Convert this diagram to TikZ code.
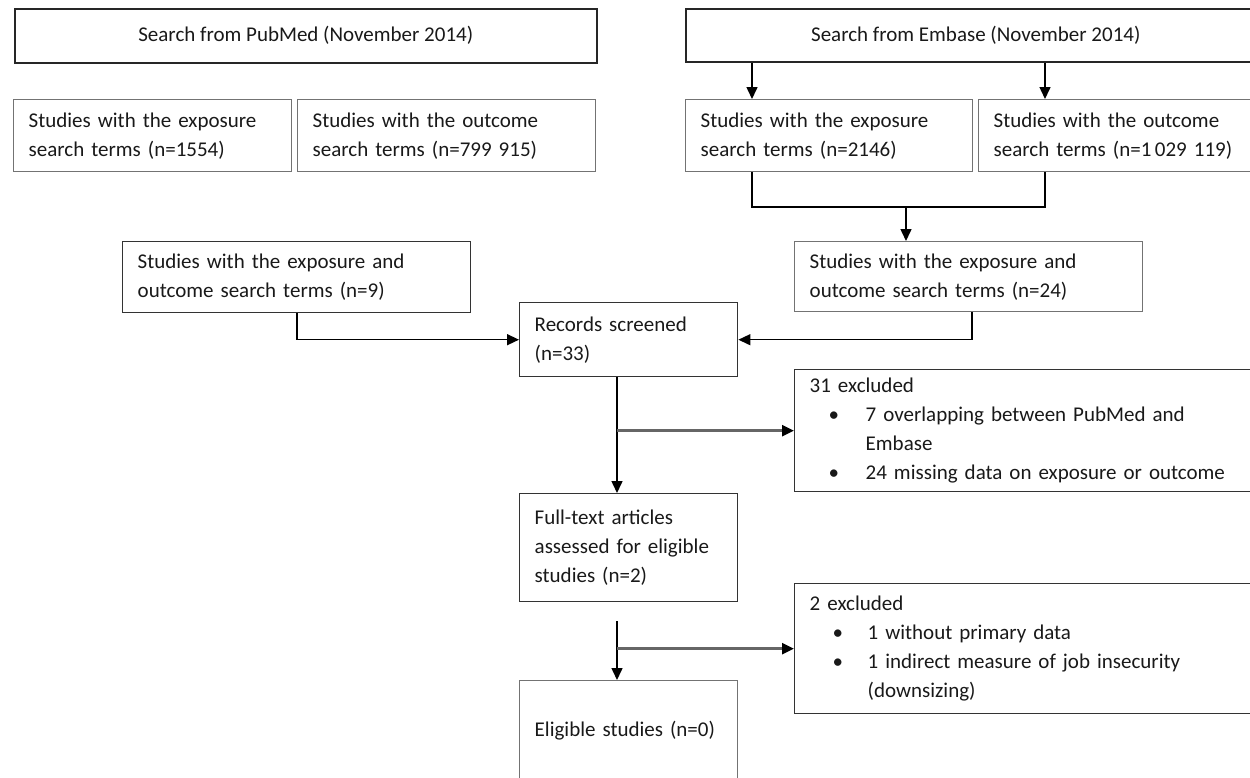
\documentclass[tikz,border=0pt]{standalone}
\usepackage{fontspec}
\setmainfont{Carlito}
\usetikzlibrary{arrows.meta}
\begin{document}
\begin{tikzpicture}[x=1pt,y=-1pt,
  every node/.style={font=\fontsize{21}{29}\selectfont, text=black!90},
  titlebox/.style={draw=black!85, line width=1.5pt, anchor=north west, align=center, inner sep=0pt},
  box/.style={draw=black!55, line width=1.4pt, anchor=north west, align=left, inner xsep=15pt, inner ysep=0pt},
  dbox/.style={draw=black!80, line width=1.4pt, anchor=north west, align=left, inner xsep=15pt, inner ysep=0pt},
  conn/.style={line width=1.5pt, draw=black},
  arr/.style={conn, -{Triangle[length=12pt,width=11pt]}},
  barr/.style={line width=2.6pt, draw=black!60, -{Triangle[length=12pt,width=11pt,color=black]}}
]
\useasboundingbox (0,0) rectangle (1250,777);
\clip (0,0) rectangle (1250,777);

% title boxes
\node[titlebox, minimum width=582pt, minimum height=54pt] (pm) at (14,8) {Search from PubMed (November 2014)};
\node[titlebox, minimum width=580pt, minimum height=53pt] (em) at (685,8) {Search from Embase (November 2014)};

% search term boxes
\node[box, text width=248pt, minimum height=72pt] (pe) at (13,99) {Studies with the exposure\\search terms (n=1554)};
\node[box, text width=268pt, minimum height=72pt] (po) at (297,99) {Studies with the outcome\\search terms (n=799 915)};
\node[box, text width=257pt, minimum height=72pt] (ee) at (685,99) {Studies with the exposure\\search terms (n=2146)};
\node[box, text width=257pt, minimum height=72pt] (eo) at (978,99) {Studies with the outcome\\search terms (n=1\,029 119)};

% combined boxes
\node[dbox, text width=318pt, minimum height=71pt] (pc) at (122,241) {Studies with the exposure and\\outcome search terms (n=9)};
\node[box, text width=318pt, minimum height=70pt] (ec) at (794,241) {Studies with the exposure and\\outcome search terms (n=24)};

% main column
\node[dbox, text width=188pt, minimum height=74pt] (rs) at (519,302) {Records screened\\(n=33)};
\node[dbox, text width=188pt, minimum height=108pt] (ft) at (519,493) {Full-text articles\\assessed for eligible\\studies (n=2)};
\node[box, text width=188pt, minimum height=100pt] (el) at (519,680) {Eligible studies (n=0)};

% exclusion boxes
\node[dbox, text width=476pt, minimum height=122pt] (x1) at (794,369) {31 excluded\\
\hspace*{19pt}\makebox[37pt][l]{\textbullet}7 overlapping between PubMed and\\
\hspace*{56pt}Embase\\
\hspace*{19pt}\makebox[37pt][l]{\textbullet}24 missing data on exposure or outcome};
\node[dbox, text width=476pt, minimum height=130pt] (x2) at (794,583) {2 excluded\\
\hspace*{23pt}\makebox[35pt][l]{\textbullet}1 without primary data\\
\hspace*{23pt}\makebox[35pt][l]{\textbullet}1 indirect measure of job insecurity\\
\hspace*{58pt}(downsizing)};

% Embase split
\coordinate (a0) at ([xshift=67pt]ee.north west);
\coordinate (a1) at ([xshift=67pt]eo.north west);
\draw[arr] (a0 |- em.south) -- (a0);
\draw[arr] (a1 |- em.south) -- (a1);

% Embase merge
\coordinate (mm) at ([xshift=112pt,yshift=34pt]ec.north west);
\draw[conn] (a0 |- ee.south) -- (a0 |- mm) -- (a1 |- mm) -- (a1 |- eo.south);
\draw[arr] (mm) -- (mm |- ec.north);

% into records screened
\draw[arr] ([xshift=175pt]pc.south west) |- (rs.west);
\draw[arr] ([xshift=178pt]ec.south west) |- (rs.east);

% records -> full text
\coordinate (v1) at ([xshift=98pt]rs.south west);
\draw[arr] (v1) -- (v1 |- ft.north);
\draw[barr] (v1 |- x1.west) -- (x1.west);

% full text -> eligible
\coordinate (v2) at ([xshift=98pt,yshift=-19pt]ft.south west);
\draw[arr] (v2) -- (v2 |- el.north);
\draw[barr] (v2 |- x2.west) -- (x2.west);
\end{tikzpicture}
\end{document}
